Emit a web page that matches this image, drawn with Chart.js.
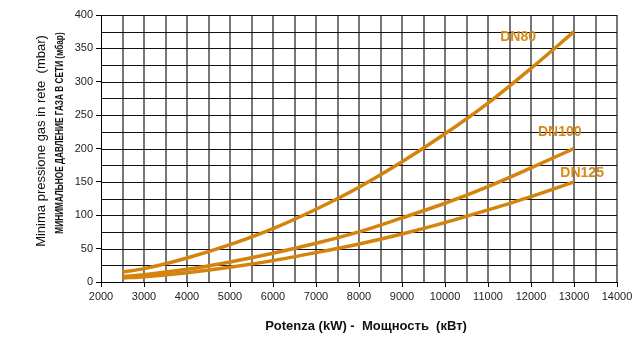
<!DOCTYPE html>
<html>
<head>
<meta charset="utf-8">
<script src="https://cdn.jsdelivr.net/npm/chart.js@4.4.0/dist/chart.umd.min.js"></script>
<style>
body { margin: 0; background: #fff; }
#wrap { position: relative; width: 637px; height: 338px; }
.t { position: absolute; white-space: pre; line-height: 1; font-family: "Liberation Sans", Arial, sans-serif; color: #111; }
.dn { font-weight: bold; font-size: 14px; color: #D68A1A; }
</style>
</head>
<body>
<div id="wrap">
<canvas id="myChart" width="637" height="338"></canvas>
</div>
<script>
// power (kW) and minimum gas pressure (mbar)
var potenza = [2500, 3000, 4000, 5000, 6000, 7000, 8000, 9000, 10000, 11000, 12000, 13000];
var dn80 = [15, 20, 36, 56, 80, 109, 142, 180, 222, 268, 320, 375];
var dn100 = [8, 11, 19, 30, 43, 58, 75, 96, 118, 143, 171, 200];
var dn125 = [6, 8, 14, 22, 32, 44, 57, 72, 89, 108, 128, 150];
var seriesNames = ['DN80', 'DN100', 'DN125'];
var xMin = 2000, xMax = 14000, xStep = 500, xLabelStep = 1000;
var yMin = 0, yMax = 400, yStep = 25, yLabelStep = 50;

var FONT = '"Liberation Sans", Arial, sans-serif';
var ORANGE = '#D4840C';

// where the DN labels sit, in data units
var labelAt = [[11700, 368], [12670, 226], [13190, 165]];

function line(ys) {
    return {
        data: potenza.map(function (p, i) { return { x: p, y: ys[i] }; }),
        borderColor: ORANGE,
        borderWidth: 3.5,
        pointRadius: 0,
        cubicInterpolationMode: 'monotone'
    };
}

// grid lines drawn from the scales' own ticks, under the curves
var gridPlugin = {
    id: 'gridlines',
    beforeDatasetsDraw: function (chart) {
        var c = chart.ctx, a = chart.chartArea, xs = chart.scales.x, ys = chart.scales.y;
        c.save();
        c.lineWidth = 2;
        c.strokeStyle = '#777';
        xs.ticks.forEach(function (t) {
            if (t.value === xMin) return;
            var px = Math.round(xs.getPixelForValue(t.value));
            c.beginPath();
            c.moveTo(px, a.top);
            c.lineTo(px, a.bottom);
            c.stroke();
        });
        c.lineWidth = 1;
        c.strokeStyle = '#111';
        ys.ticks.forEach(function (t) {
            if (t.value === yMin) return;
            var py = Math.round(ys.getPixelForValue(t.value)) + 0.5;
            c.beginPath();
            c.moveTo(a.left, py);
            c.lineTo(a.right, py);
            c.stroke();
        });
        c.restore();
    }
};

var ctx = document.getElementById('myChart');
var myChart = new Chart(ctx, {
    type: 'line',
    data: { datasets: [line(dn80), line(dn100), line(dn125)] },
    options: {
        responsive: false,
        animation: false,
        layout: { padding: { left: 0, right: 20, top: 15, bottom: 0 } },
        plugins: { legend: { display: false } },
        scales: {
            x: {
                type: 'linear', min: xMin, max: xMax,
                afterFit: function (s) { s.height = 56; },
                ticks: {
                    stepSize: xStep, autoSkip: false, maxRotation: 0, padding: 3, color: '#222',
                    font: { size: 11, family: FONT },
                    callback: function (v) { return v % xLabelStep === 0 ? v : ''; }
                },
                grid: {
                    drawOnChartArea: false, tickLength: 5, tickWidth: 1,
                    tickColor: function (t) { return t.tick && t.tick.value % xLabelStep === 0 ? '#000' : 'rgba(0,0,0,0)'; }
                },
                border: { color: '#000', width: 1 }
            },
            y: {
                min: yMin, max: yMax,
                afterFit: function (s) { s.width = 101; },
                ticks: {
                    stepSize: yStep, padding: 3, color: '#222',
                    font: { size: 11, family: FONT },
                    callback: function (v) { return v % yLabelStep === 0 ? v : ''; }
                },
                grid: {
                    drawOnChartArea: false, tickLength: 5, tickWidth: 1,
                    tickColor: function (t) { return t.tick && t.tick.value % yLabelStep === 0 ? '#000' : 'rgba(0,0,0,0)'; }
                },
                border: { color: '#000', width: 1 }
            }
        }
    },
    plugins: [gridPlugin]
});

// text labels as html, placed by centre point
var wrap = document.getElementById('wrap');
function addText(txt, cls, cx, cy, css, rot, fitW) {
    var el = document.createElement('div');
    el.className = cls;
    el.textContent = txt;
    el.style.cssText += css;
    wrap.appendChild(el);
    var k = fitW ? Math.min(1, fitW / el.offsetWidth) : 1;
    el.style.left = cx + 'px';
    el.style.top = cy + 'px';
    el.style.transform = 'translate(-50%,-50%)' + (rot ? ' rotate(-90deg)' : '') + ' scaleX(' + k + ')';
}

var xs = myChart.scales.x, ys = myChart.scales.y;
for (var i = 0; i < seriesNames.length; i++) {
    addText(seriesNames[i], 't dn', xs.getPixelForValue(labelAt[i][0]), ys.getPixelForValue(labelAt[i][1]), '', false);
}
addText('Potenza (kW) -  Мощность  (кВт)', 't', 366, 325, 'font-weight:bold;font-size:13px;', false);
addText('Minima pressione gas in rete  (mbar)', 't', 40, 141, 'font-size:13px;', true);
addText('МИНИМАЛЬНОЕ ДАВЛЕНИЕ ГАЗА В СЕТИ (мбар)', 't', 60, 133, 'font-weight:bold;font-size:10px;', true, 201);
</script>
</body>
</html>
